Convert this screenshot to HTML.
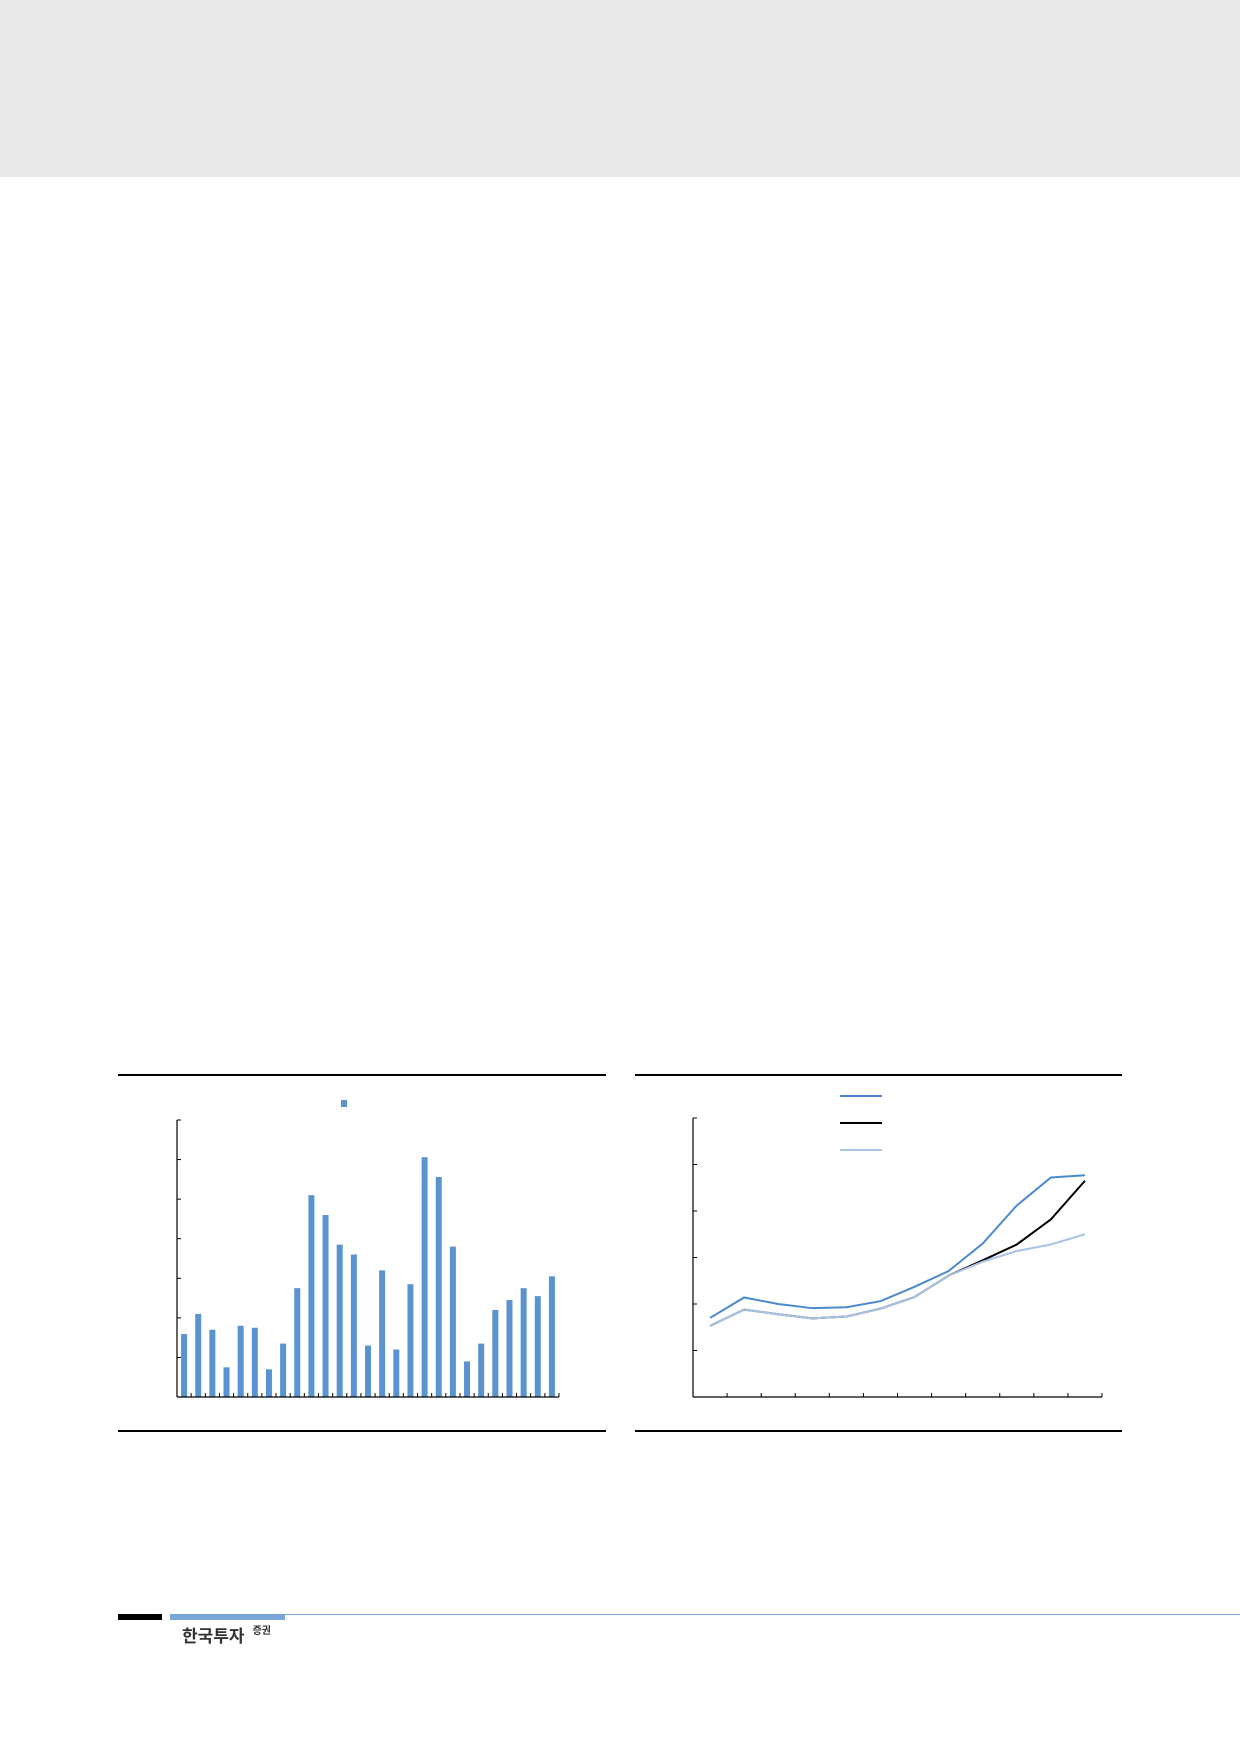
<!DOCTYPE html>
<html><head><meta charset="utf-8"><style>
body{margin:0;width:1240px;height:1754px;background:#fff;position:relative;overflow:hidden;font-family:"Liberation Sans","Noto Sans CJK KR",sans-serif}
.abs{position:absolute}
</style></head><body>
<div class="abs" style="left:0;top:0;width:1240px;height:177px;background:#e9e9e9"></div>
<svg class="abs" style="left:0;top:0" width="1240" height="1754">
<g id="c1"></g>
<g id="c2"></g>
</svg>
<div class="abs" style="left:118px;top:1614px;width:44px;height:6px;background:#000"></div>
<div class="abs" style="left:170px;top:1614px;width:115px;height:6px;background:#79a6d8"></div>
<div class="abs" style="left:285px;top:1614px;width:955px;height:1px;background:#79a6d8"></div>
<div class="abs" style="left:182px;top:1622px;font-size:17px;font-weight:bold;color:#333">한국투자<span style="font-size:10px;vertical-align:top;margin-left:8px">증권</span></div>
<script>
const barValues=[1.59,2.10,1.70,0.75,1.80,1.75,0.70,1.35,2.75,5.10,4.60,3.85,3.60,1.30,3.20,1.20,2.85,6.06,5.56,3.80,0.90,1.35,2.20,2.45,2.75,2.55,3.05];
const barYTicks=[0,1,2,3,4,5,6,7];
const lineA=[1.70,2.14,2.00,1.91,1.93,2.06,2.37,2.71,3.30,4.12,4.72,4.77];
const lineB=[1.53,1.88,1.78,1.69,1.73,1.90,2.15,2.61,2.94,3.28,3.82,4.65];
const lineC=[1.53,1.88,1.78,1.69,1.73,1.90,2.15,2.61,2.91,3.14,3.28,3.50];
const lineYTicks=[0,1,2,3,4,5,6];
const NS='http://www.w3.org/2000/svg';
function mk(p,t,a){const e=document.createElementNS(NS,t);for(const k in a)e.setAttribute(k,a[k]);p.appendChild(e);return e;}
const g1=document.getElementById('c1');
let e;
e=mk(g1,'rect',{x:118,y:1074,width:488,height:2,fill:'#000'});


e=mk(g1,'rect',{x:118,y:1430,width:488,height:2,fill:'#000'});


const x0=177,x1=559,yb=1397,yt=1120,ymax=7;
const y1=v=>yb-(yb-yt)*v/ymax;
const cw=(x1-x0)/barValues.length;
barValues.forEach((v,i)=>{
 const b=mk(g1,'rect',{x:x0+cw*i+cw/2-3,y:y1(v),width:6,height:yb-y1(v),fill:'#5a93d0'});
 
 
});
mk(g1,'line',{x1:x0,y1:yt,x2:x0,y2:yb,stroke:'#000','stroke-width':1.2});
mk(g1,'line',{x1:x0,y1:yb,x2:x1,y2:yb,stroke:'#000','stroke-width':1.2});
barYTicks.forEach(t=>mk(g1,'line',{x1:x0,y1:y1(t),x2:x0+4,y2:y1(t),stroke:'#000'}));
for(let i=1;i<=barValues.length;i++)mk(g1,'line',{x1:x0+cw*i,y1:yb,x2:x0+cw*i,y2:yb-4,stroke:'#000'});
e=mk(g1,'rect',{x:341,y:1100,width:6,height:7,fill:'#5a93d0'});


const g2=document.getElementById('c2');
e=mk(g2,'rect',{x:635,y:1074,width:487,height:2,fill:'#000'});


e=mk(g2,'rect',{x:635,y:1430,width:487,height:2,fill:'#000'});


const X0=693,X1=1102,YB=1397,YT=1118,YMAX=6;
const y2=v=>YB-(YB-YT)*v/YMAX;
const n=lineA.length,sw=(X1-X0)/n;
const xp=i=>X0+sw*i+sw/2;
mk(g2,'line',{x1:X0,y1:YT,x2:X0,y2:YB,stroke:'#000','stroke-width':1.2});
mk(g2,'line',{x1:X0,y1:YB,x2:X1,y2:YB,stroke:'#000','stroke-width':1.2});
lineYTicks.forEach(t=>mk(g2,'line',{x1:X0,y1:y2(t),x2:X0+4,y2:y2(t),stroke:'#000'}));
for(let i=1;i<=n;i++)mk(g2,'line',{x1:X0+sw*i,y1:YB,x2:X0+sw*i,y2:YB-4,stroke:'#000'});
[[lineB,'#000','line-black'],[lineC,'#a9c3e6','line-light'],[lineA,'#4a89cf','line-blue']].forEach(([d,c,nm])=>{
 const p=mk(g2,'polyline',{points:d.map((v,i)=>xp(i)+','+y2(v)).join(' '),fill:'none',stroke:c,'stroke-width':2});
 
 
});
[['#4a89cf',1096],['#000',1123],['#a9c3e6',1150]].forEach(([c,y],i)=>{
 const l=mk(g2,'line',{x1:840,y1:y,x2:882,y2:y,stroke:c,'stroke-width':2});
 
 
});
</script>
</body></html>
